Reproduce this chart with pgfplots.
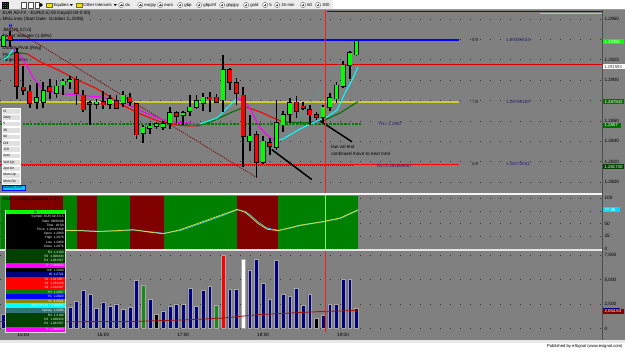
\documentclass[border=0pt]{standalone}
\usepackage{fontspec}
\setmainfont{Liberation Sans}
\usepackage{pgfplots}
\usepackage{pgfplotstable}
\pgfplotsset{compat=1.18}
\newcommand{\fs}[1]{\fontsize{#1}{#1}\selectfont}
\definecolor{bg}{RGB}{128,128,128}
\definecolor{cgreen}{RGB}{0,255,0}
\definecolor{cred}{RGB}{255,0,0}
\definecolor{rsigreen}{RGB}{0,128,0}
\definecolor{rsired}{RGB}{128,0,0}
\definecolor{navyb}{RGB}{0,0,128}
\definecolor{mmyellow}{RGB}{204,204,51}
\definecolor{magL}{RGB}{255,0,255}
\definecolor{cyaL}{RGB}{0,255,255}
\definecolor{slowgreen}{RGB}{0,115,0}
\definecolor{diagred}{RGB}{120,0,0}
\definecolor{tealL}{RGB}{70,165,165}
\definecolor{tbbg}{RGB}{236,236,236}
\definecolor{volma}{RGB}{150,20,20}
\definecolor{dkgreen}{RGB}{0,64,0}
\definecolor{boxgreen}{RGB}{0,112,0}
\definecolor{lblblue}{RGB}{30,30,110}
\definecolor{rsiyel}{RGB}{230,220,60}
\definecolor{rsicya}{RGB}{60,200,220}

\pgfplotstableread{
i o h l c
0 1.29332 1.29446 1.29322 1.29430
5 1.28786 1.28973 1.28721 1.28826
6 1.28786 1.28982 1.28728 1.28897
8 1.28875 1.29005 1.28826 1.28940
9 1.28956 1.29015 1.28852 1.28989
10 1.28989 1.29038 1.28917 1.29005
14 1.28767 1.28819 1.28721 1.28784
16 1.28767 1.28858 1.28721 1.28819
18 1.28777 1.28897 1.28734 1.28852
21 1.28483 1.28558 1.28385 1.28539
22 1.28532 1.28581 1.28473 1.28548
23 1.28548 1.28590 1.28525 1.28571
24 1.28538 1.28597 1.28515 1.28571
25 1.28581 1.28734 1.28525 1.28679
27 1.28656 1.28695 1.28564 1.28679
28 1.28695 1.28852 1.28646 1.28734
29 1.28734 1.28852 1.28721 1.28799
30 1.28777 1.28875 1.28695 1.28832
33 1.28809 1.29250 1.28688 1.29103
37 1.28401 1.28662 1.28303 1.28450
39 1.28198 1.28450 1.28179 1.28401
41 1.28342 1.28809 1.28319 1.28581
42 1.28564 1.28701 1.28492 1.28662
43 1.28669 1.28826 1.28581 1.28777
48 1.28636 1.28760 1.28590 1.28734
49 1.28734 1.28875 1.28695 1.28826
50 1.28819 1.28982 1.28777 1.28950
51 1.28940 1.29185 1.28924 1.29146
52 1.29146 1.29283 1.29015 1.29267
53 1.29250 1.29397 1.29234 1.29381
}\greens

\pgfplotstableread{
i o h l c
1 1.29430 1.29485 1.29322 1.29391
2 1.29267 1.29316 1.28819 1.28940
3 1.28930 1.29136 1.28852 1.28904
4 1.28891 1.28956 1.28728 1.28777
7 1.28933 1.29015 1.28819 1.28891
11 1.29005 1.29038 1.28760 1.28875
12 1.28852 1.28907 1.28688 1.28711
13 1.28777 1.28793 1.28564 1.28767
15 1.28784 1.28891 1.28721 1.28760
17 1.28799 1.28852 1.28721 1.28728
19 1.28832 1.28875 1.28744 1.28784
20 1.28767 1.28777 1.28427 1.28466
26 1.28679 1.28695 1.28581 1.28646
31 1.28832 1.28884 1.28688 1.28819
32 1.28832 1.28865 1.28777 1.28786
34 1.29103 1.29120 1.28907 1.28982
35 1.28973 1.29022 1.28760 1.28875
36 1.28852 1.28931 1.28147 1.28450
38 1.28466 1.28505 1.28048 1.28198
40 1.28385 1.28434 1.28270 1.28352
44 1.28784 1.28842 1.28630 1.28701
45 1.28744 1.28784 1.28711 1.28728
46 1.28711 1.28760 1.28564 1.28662
47 1.28662 1.28688 1.28613 1.28636
}\reds

\pgfplotsset{panel/.style={scale only axis, width=603pt, xmin=-0.45, xmax=90,
  anchor=north west, axis line style={draw=none}, major tick length=0pt,
  yticklabel pos=right, xtick=\empty,
  yticklabel style={font=\fs{4.7}, text=black, inner sep=1.5pt},
  ymajorgrids, major grid style={black!80, line width=0.7pt, dash pattern=on 0.7pt off 9.3pt}}}

\begin{document}
\begin{tikzpicture}
\begin{scope}[x=1pt,y=-1pt]
\path[use as bounding box] (0,0) rectangle (625,351);
\fill[bg] (0,0) rectangle (625,351);
\begin{scope}[every node/.style={anchor=west, inner sep=0pt, font=\fs{4.6}, text=black}]
\node at (2,13) {EUR A0-FX - EUR(0.5) 50 Days(0:00-0:00)};
\node at (2,19.5) {MM Lines (Start Date: October 2, 2009)};
\node[text=blue, font=\fs{4.6}\bfseries] at (8.5,25.5) {H};
\node at (2,30.5) {JMA(20,3,0,0)};
\node at (2,36.5) {Target Indicator (1.08\%)};
\node at (2,48.5) {Double Pivot (Reg)};
\node at (2,54.5) {Pts};
\node at (2,60.5) {Target Lines};
\end{scope}
\end{scope}

% ---------------- price panel
\begin{axis}[panel, at={(0pt,-10pt)}, height=183pt,
  ymin=1.278948, ymax=1.296882,
  ytick={1.280,1.282,1.284,1.286,1.288,1.290,1.292,1.294,1.296},
  yticklabels={1.2800,1.2820,1.2840,1.2860,,1.2900,1.2920,,1.2960}]
% horizontal levels
\addplot[blue, line width=2pt] coordinates {(-0.45,1.29392) (68.4,1.29392)};
\addplot[blue, line width=1.2pt] coordinates {(48.6,1.29673) (90,1.29673)};
\addplot[mmyellow, line width=0.8pt] coordinates {(80.5,1.29652) (90,1.29652)};
\addplot[cred!85!black, line width=0.8pt] coordinates {(-0.45,1.29159) (90,1.29159)};
\addplot[mmyellow, line width=1.6pt] coordinates {(-0.45,1.28784) (68.4,1.28784)};
\addplot[rsigreen, line width=1.3pt, dash pattern=on 2.5pt off 1.2pt] coordinates {(-0.45,1.28571) (53.8,1.28571)};
\addplot[cred, line width=1.2pt] coordinates {(-0.45,1.28176) (68.4,1.28176)};
\addplot[rsigreen!70!black, line width=1.1pt, dash pattern=on 1pt off 1pt] coordinates {(-0.45,1.28159) (52.5,1.28159)};
% diagonal lines
\addplot[diagred, line width=0.7pt, dash pattern=on 1.2pt off 1pt] coordinates {(1.05,1.29522) (38.1,1.28042)};
\addplot[tealL, line width=0.6pt, dash pattern=on 1pt off 1pt] coordinates {(37.8,1.28042) (52.65,1.29355)};
% slow MA (green rising / red falling)
\addplot[slowgreen, line width=1.1pt] coordinates {(0.3,1.29228) (1.35,1.29257) (2.55,1.29267) (3.6,1.29257)};
\addplot[cred, line width=1.1pt] coordinates {(3.6,1.29257) (5.55,1.29179) (8.55,1.29090) (11.1,1.29002) (13.8,1.28924) (16.05,1.28836) (17.55,1.28767) (20.55,1.28669) (23.55,1.28591) (25.8,1.28561) (28.05,1.28551) (29.1,1.28551)};
\addplot[slowgreen, line width=1.1pt] coordinates {(29.1,1.28551) (31.5,1.28600) (34.05,1.28679) (36.3,1.28738)};
\addplot[cred, line width=1.1pt] coordinates {(36.3,1.28738) (38.55,1.28689) (40.5,1.28630) (42,1.28591)};
\addplot[slowgreen, line width=1.1pt] coordinates {(42,1.28591) (45.3,1.28581) (48,1.28600) (50.55,1.28679) (53.25,1.28790)};
% fast MA (cyan rising / magenta falling)
\addplot[cyaL, line width=1.1pt] coordinates {(0,1.29198) (0.75,1.29237) (1.5,1.29306)};
\addplot[magL, line width=1.1pt] coordinates {(1.5,1.29306) (2.55,1.29247) (3.6,1.29130) (4.5,1.29022) (6,1.28904) (7.5,1.28875) (11.1,1.28855) (14.55,1.28836) (17.55,1.28796) (19.5,1.28738) (21,1.28689) (23.55,1.28620) (25.5,1.28591) (27.6,1.28581) (29.55,1.28571)};
\addplot[cyaL, line width=1.1pt] coordinates {(29.55,1.28571) (32.1,1.28630) (34.05,1.28757) (35.1,1.28826)};
\addplot[magL, line width=1.1pt] coordinates {(35.1,1.28826) (36.6,1.28767) (37.5,1.28659) (38.55,1.28532) (39.6,1.28463) (40.8,1.28404)};
\addplot[cyaL, line width=1.1pt] coordinates {(40.8,1.28404) (42,1.28424) (44.55,1.28522) (46.5,1.28581) (48.6,1.28640) (50.1,1.28708) (51.3,1.28875) (52.35,1.29002) (53.25,1.29130)};
% wicks
\addplot[draw=none, forget plot, error bars/.cd, y dir=both, y explicit, error mark=none,
  error bar style={draw=black, solid, line width=1.7pt}]
  table[x=i, y expr={(\thisrow{h}+\thisrow{l})/2}, y error expr={(\thisrow{h}-\thisrow{l})/2}] {\greens};
\addplot[draw=none, forget plot, error bars/.cd, y dir=both, y explicit, error mark=none,
  error bar style={draw=black, solid, line width=1.7pt}]
  table[x=i, y expr={(\thisrow{h}+\thisrow{l})/2}, y error expr={(\thisrow{h}-\thisrow{l})/2}] {\reds};
% bodies outline
\addplot[draw=none, forget plot, error bars/.cd, y dir=both, y explicit, error mark=none,
  error bar style={draw=black, solid, line width=5pt}]
  table[x=i, y expr={(\thisrow{o}+\thisrow{c})/2}, y error expr={abs(\thisrow{c}-\thisrow{o})/2+0.00007}] {\greens};
\addplot[draw=none, forget plot, error bars/.cd, y dir=both, y explicit, error mark=none,
  error bar style={draw=black, solid, line width=5pt}]
  table[x=i, y expr={(\thisrow{o}+\thisrow{c})/2}, y error expr={abs(\thisrow{c}-\thisrow{o})/2+0.00007}] {\reds};
% bodies colour
\addplot[draw=none, forget plot, error bars/.cd, y dir=both, y explicit, error mark=none,
  error bar style={draw=cgreen, solid, line width=3.6pt}]
  table[x=i, y expr={(\thisrow{o}+\thisrow{c})/2}, y error expr={abs(\thisrow{c}-\thisrow{o})/2}] {\greens};
\addplot[draw=none, forget plot, error bars/.cd, y dir=both, y explicit, error mark=none,
  error bar style={draw=cred, solid, line width=3.6pt}]
  table[x=i, y expr={(\thisrow{o}+\thisrow{c})/2}, y error expr={abs(\thisrow{c}-\thisrow{o})/2}] {\reds};
% arrows
\addplot[black, line width=1.5pt] coordinates {(40.3,1.28319) (46.3,1.28025)};
\addplot[black, line width=1.5pt] coordinates {(47.55,1.28600) (52.35,1.28395)};
\end{axis}

% ---------------- RSI panel
\begin{axis}[panel, at={(0pt,-196pt)}, height=53.3pt, ymin=0, ymax=104.5,
  ytick={0,25,50,75,100}, yticklabels={0,25,50,,100}]
\addplot[fill=rsigreen, draw=none] coordinates {(-0.45,104.5) (1.05,104.5)} \closedcycle;
\addplot[fill=rsired, draw=none] coordinates {(1.05,104.5) (9,104.5)} \closedcycle;
\addplot[fill=rsigreen, draw=none] coordinates {(9,104.5) (11.1,104.5)} \closedcycle;
\addplot[fill=rsired, draw=none] coordinates {(11.1,104.5) (14.1,104.5)} \closedcycle;
\addplot[fill=rsigreen, draw=none] coordinates {(14.1,104.5) (19.05,104.5)} \closedcycle;
\addplot[fill=rsired, draw=none] coordinates {(19.05,104.5) (24.15,104.5)} \closedcycle;
\addplot[fill=rsigreen, draw=none] coordinates {(24.15,104.5) (35.1,104.5)} \closedcycle;
\addplot[fill=rsired, draw=none] coordinates {(35.1,104.5) (41.25,104.5)} \closedcycle;
\addplot[fill=rsigreen, draw=none] coordinates {(41.25,104.5) (53.25,104.5)} \closedcycle;
\addplot[rsicya, line width=0.8pt] coordinates {(9.3,36.5) (11.55,36.5) (14.1,35) (16.8,35.5) (19.5,37.5) (22.05,34) (24,31) (26.55,36.5) (29.55,50) (32.55,64) (35.1,77) (36.3,74) (37.05,67) (38.25,53) (39.6,41) (41.25,37) (43.05,41) (44.55,46) (48,53.5) (50.55,60) (53.25,76)};
\addplot[rsiyel, line width=0.7pt] coordinates {(9.3,37) (11.55,36) (14.1,34.5) (16.8,36) (19.5,38) (22.05,33) (24,30) (26.55,38) (29.55,52) (32.55,66) (35.1,78) (36.3,72) (37.05,64) (38.25,50) (39.6,39) (41.25,36) (43.05,42) (44.55,47) (48,54) (50.55,61) (53.25,77)};
\end{axis}

% ---------------- volume panel
\begin{axis}[panel, at={(0pt,-251pt)}, height=81pt, ymin=-306, ymax=7959,
  ytick={0,2500,5000,7500}, yticklabels={0,{2,500},{5,000},{7,500}},
  xtick={3,15,27,39,51}, xticklabels={15:00,16:00,17:00,18:00,19:00},
  xticklabel style={font=\fs{4.7}, text=black, inner sep=1.5pt}]
\addplot[ybar, bar width=3.8pt, bar shift=0pt, fill=navyb, draw=black!35!white, line width=0.5pt] coordinates {
(0,1430) (1,2400) (2,3100) (3,4200) (4,2600) (5,3300) (6,2800) (7,2200) (8,3600) (9,2500)
(10,2210) (11,2790) (12,3910) (13,3540) (14,2110) (15,2750) (16,2250) (17,2550) (18,2000) (19,2150)
(20,4930) (22,2960) (24,1810) (25,2300) (26,2550) (27,2450) (28,4150) (29,2280)
(30,3910) (31,4320) (34,3980) (35,3980) (37,6020) (38,7110) (39,4660)
(40,3030) (41,6970) (42,3470) (43,3300) (44,4110) (45,2380) (46,3540) (48,1360) (49,2520)
(50,2520) (51,5070) (52,5070) (53,2110)};
\addplot[ybar, bar width=3.8pt, bar shift=0pt, fill=rsigreen!90!white, draw=black!35!white, line width=0.5pt] coordinates {(21,4420) (32,2350)};
\addplot[ybar, bar width=3.8pt, bar shift=0pt, fill=black, draw=black!35!white, line width=0.5pt] coordinates {(23,1430) (47,1090)};
\addplot[ybar, bar width=3.8pt, bar shift=0pt, fill=cred, draw=black!35!white, line width=0.5pt] coordinates {(33,7550)};
\addplot[ybar, bar width=3.8pt, bar shift=0pt, fill=white, draw=black!35!white, line width=0.5pt] coordinates {(36,7110)};
\addplot[volma, line width=0.8pt] coordinates {(-0.45,745) (9.3,714) (19.5,745) (28.05,918) (33,1092) (38.1,1429) (43.05,1602) (48,1765) (53.1,1867)};
\end{axis}

\begin{scope}[x=1pt,y=-1pt]
% separators and borders
\fill[white!92!gray] (0,193.3) rectangle (603,195);
\fill[white!80!gray] (0,249.4) rectangle (603,251);
\draw[black!70, line width=0.7pt] (602.7,10) -- (602.7,341);
% vertical cursor line
\draw[cred!90!white, line width=0.6pt] (325,10) -- (325,193.3);
\draw[green!60!white, line width=0.6pt] (325,195) -- (325,249.4);
\draw[cred!90!white, line width=0.6pt] (325,251) -- (325,332);
% level labels
\begin{scope}[every node/.style={anchor=west, inner sep=0pt, font=\fs{4.5}}]
\node[text=black!85] at (472,40) {8/8};
\node[text=lblblue] at (506,40) {1.29384534};
\node[text=black!85] at (472,102) {7/8};
\node[text=lblblue] at (506,102) {1.28784182};
\node[text=black!85] at (472,164.5) {6/8};
\node[text=lblblue] at (506,164.5) {1.28173031};
\node[text=lblblue] at (378,124) {YH= 1.2857};
\node[text=lblblue] at (377,166) {R1=1.281666667};
\node[text=black, font=\fs{4.7}] at (331,147) {low vol test};
\node[text=black, font=\fs{4.7}] at (331,154) {continued move to next mml};
\node[text=black, font=\fs{4.6}] at (2,199.5) {RSX + trailing SMA(14,2,3,)};
\end{scope}
% right axis boxes
\begin{scope}[every node/.style={anchor=west, inner sep=0pt, font=\fs{4.3}}]
\fill[cgreen] (603.5,39.5) rectangle (624,44.5); \node[text=white] at (604.5,42) {1.29384};
\fill[white] (603.5,64.5) rectangle (625,69.5); \node[text=black!80] at (604,67) {1.291593};
\fill[boxgreen] (603.5,99.5) rectangle (624,104.5); \node[text=white] at (604.5,102) {1.287842};
\fill[boxgreen] (603.5,123.2) rectangle (621,127.8); \node[text=white] at (604.5,125.5) {1.2857};
\fill[dkgreen] (603.5,164.4) rectangle (624.5,169); \node[text=white] at (604.5,166.7) {1.281730};
\fill[cyaL!85!blue] (603.5,207.5) rectangle (620,212.5); \node[text=white] at (604.5,210) {77.36};
\fill[navyb] (603.5,308.4) rectangle (620,309.6);
\fill[rsired] (603.5,309.6) rectangle (624,314.4); \node[text=white] at (604.5,312) {2,054.83};
\end{scope}
% data window
\fill[black!15] (5,209.8) rectangle (65.6,333);
\fill[cgreen] (5.6,210.4) rectangle (65,214); \node[font=\fs{3.3}, inner sep=0pt] at (35.3,212.2) {Dt};
\fill[black] (5.6,214.2) rectangle (65,249.6);
\fill[dkgreen] (5.6,249.6) rectangle (65,263.4);
\fill[magL] (5.6,263.4) rectangle (65,268.2);
\fill[black] (5.6,268.2) rectangle (65,272.6);
\fill[navyb] (5.6,272.6) rectangle (65,277);
\fill[cred] (5.6,277) rectangle (65,290);
\fill[rsigreen] (5.6,290) rectangle (65,294.4);
\fill[blue] (5.6,294.4) rectangle (65,298.9);
\fill[olive] (5.6,298.9) rectangle (65,303.4);
\fill[cyaL] (5.6,303.4) rectangle (65,308.4);
\fill[tealL!70!black] (5.6,308.4) rectangle (65,313.3);
\fill[dkgreen] (5.6,313.3) rectangle (65,327);
\fill[magL] (5.6,327) rectangle (65,332.4);
\begin{scope}[every node/.style={anchor=east, inner sep=0pt, font=\fs{3.2}, text=white}]
\node at (63.5,216.8) {Symbol: EUR A0-FX,5};
\node at (63.5,221.1) {Date: 08/06/09};
\node at (63.5,225.4) {Time: 18:50};
\node at (63.5,229.7) {Price: 1.28143389};
\node at (63.5,234) {Open \ 1.2860};
\node at (63.5,238.3) {High \ 1.2878};
\node at (63.5,242.6) {Low \ 1.2860};
\node at (63.5,246.9) {Close \ 1.2876};
\node at (63.5,252.6) {R3 \ 1.3180};
\node at (63.5,256.8) {R2 \ 1.300433};
\node at (63.5,261) {R1 \ 1.281567};
\node at (63.5,265.8) {P \ 1.266833};
\node at (63.5,270.4) {mP \ 1.2000};
\node at (63.5,274.8) {W \ 1.2721};
\node at (63.5,279.2) {S1 \ 1.247967};
\node at (63.5,283.5) {S2 \ 1.233233};
\node at (63.5,287.8) {S3 \ 1.214367};
\node at (63.5,292.2) {YH \ 1.2857};
\node at (63.5,296.7) {YC \ 1.2822};
\node at (63.5,301.2) {YL \ 1.2821};
\node at (63.5,305.9) {ARC td Line \ 1.280331};
\node at (63.5,310.9) {OpDay \ 1.2895};
\node at (63.5,315.5) {R3 \ 1.3180};
\node at (63.5,319.8) {R2 \ 1.300433};
\node at (63.5,324.1) {R1 \ 1.281567};
\node at (63.5,329.7) {P \ 1.266833};
\end{scope}
% button panel
\foreach \yc/\t in {111/Cl,117.4/Daily,123.8/5,130.3/30,136.7/60,143.1/D\slash 4,149.5/120,155.9/Auto,162.4/Vert Up,168.8/Zpd On,175.2/Mom Up,181.6/Mom Dn}{
  \filldraw[fill=black!12, draw=white, line width=0.4pt] (1.5,\yc-2.8) rectangle (19.5,\yc+2.8);
  \node[anchor=west, inner sep=0pt, font=\fs{3.3}, text=black] at (2.8,\yc) {\t};
}
\filldraw[fill=cyaL!80!blue, draw=blue, line width=0.5pt] (1.5,185.3) rectangle (25,190.7);
\node[anchor=west, inner sep=0pt, font=\fs{3.3}, text=black] at (2.8,188) {Mummy Tool};
% toolbar
\fill[tbbg] (0,0) rectangle (333,9.5);
\fill[white] (333,0) rectangle (625,9.5);
\draw[black!40, line width=0.4pt] (0,9.6) -- (625,9.6);
\filldraw[fill=green!60!black, draw=black] (1.8,1.8) rectangle (8,8);
\draw[black, line width=0.3pt] (3.8,1.8) -- (3.8,8) (5.9,1.8) -- (5.9,8) (1.8,4) -- (8,4) (1.8,6) -- (8,6);
\foreach \xx in {21,28,34.5}{\filldraw[fill=white, draw=black!70, line width=0.4pt] (\xx,2) rectangle (\xx+4.5,8);}
\fill[black] (40.5,3) -- (42.5,5) -- (40.5,7) -- (38.5,5) -- cycle;
\filldraw[fill=yellow!80!orange, draw=black!60, line width=0.3pt] (46,3.2) rectangle (51.5,7.6);
\filldraw[fill=yellow!80!orange, draw=black!60, line width=0.3pt] (76,3.2) rectangle (81.5,7.6);
\fill[black] (69.5,4.2) -- (72.5,4.2) -- (71,6) -- cycle;
\fill[black] (113.5,4.2) -- (116.5,4.2) -- (115,6) -- cycle;
\begin{scope}[every node/.style={anchor=west, inner sep=0pt, font=\fs{4.3}, text=black}]
\node at (53,5) {Equities};
\node at (83,5) {Other Intervals};
\foreach \cx/\t in {121/dx,140/eurjpy,160/euro,180/gbp,199/gbpchf,222/gbpjpy,246/gold,265/5,277/15-min,303/60,318/300}{
  \draw[black!60, fill=white, line width=0.4pt] (\cx,5) circle (2.6);
  \draw[black!70, line width=0.4pt] (\cx-1.3,5) -- (\cx+1.3,5) (\cx,3.7) -- (\cx,6.3);
  \node at (\cx+4,5) {\t};
}
\end{scope}
% footer
\fill[white!82!gray] (0,340) rectangle (625,343);
\fill[white] (0,343) rectangle (625,351);
\node[anchor=east, inner sep=0pt, font=\fs{4.2}, text=black] at (623,347) {Published by eSignal (www.esignal.com)};
\end{scope}
\end{tikzpicture}
\end{document}
